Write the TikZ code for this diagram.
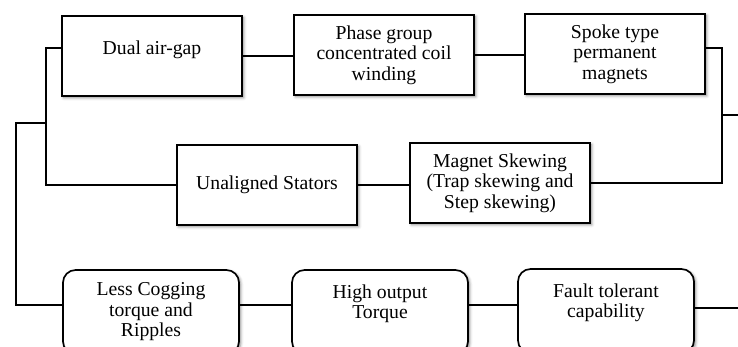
\documentclass[tikz,border=0pt]{standalone}
\usepackage{fontspec}
\setmainfont{Liberation Serif}
\usetikzlibrary{calc,shadows.blur}

\tikzset{
  blk/.style={draw, line width=1.2pt, fill=white, align=center,
    minimum width=4.5cm, minimum height=2cm, inner sep=2pt,
    font=\fontsize{14}{14.6}\selectfont,
    blur shadow={shadow xshift=1.2pt, shadow yshift=-1.2pt, shadow blur radius=2pt, shadow opacity=45}},
  rblk/.style={blk, rounded corners=9pt, minimum width=4.4cm, minimum height=2.1cm},
  wire/.style={line width=1.1pt}
}

\begin{document}
\begin{tikzpicture}[x=0.025cm,y=-0.025cm]
    \useasboundingbox (0,0) rectangle (738,347);
    \clip (0,0) rectangle (738,347);
    % top row
    \node[blk] (dual) at (152,56) {\raisebox{0.15cm}[\height][\depth]{Dual air-gap}};
    \node[blk] (phase) at (384,55) {Phase group\\concentrated coil\\winding};
    \node[blk] (spoke) at (615,54) {Spoke type\\permanent\\magnets};
    % middle row
    \node[blk] (unal) at (267,185) {Unaligned Stators};
    \node[blk] (magnet) at (500,183) {Magnet Skewing\\(Trap skewing and\\Step skewing)};
    % bottom row (results)
    \node[rblk] (less) at (151,312) {Less Cogging\\torque and\\Ripples};
    \node[rblk] (high) at (380,312) {High output\\Torque\\ \mbox{}};
    \node[rblk] (fault) at (606,311) {Fault tolerant\\capability\\ \mbox{}};

    \coordinate (ljoin) at (46,123);
    \coordinate (lfar) at (16,123);
    \coordinate (rjoin) at (722,115);
    \coordinate (rout) at (738,115);
    \coordinate (bout) at (738,308);

    \draw[wire] ([yshift=0.2cm]dual.west) -| (ljoin) |- (unal.west);
    \draw[wire] (ljoin) -- (lfar) |- ([yshift=0.17cm]less.west);
    \draw[wire] (dual.east) -- (dual.east -| phase.west);
    \draw[wire] (phase.east) -- (phase.east -| spoke.west);
    \draw[wire] ([yshift=0.15cm]spoke.east) -| (rjoin) |- (magnet.east);
    \draw[wire] (rjoin) -- (rout);
    \draw[wire] (unal.east) -- (unal.east -| magnet.west);
    \draw[wire] ([yshift=0.17cm]less.east) -- ([yshift=0.17cm]less.east -| high.west);
    \draw[wire] ([yshift=0.17cm]high.east) -- ([yshift=0.17cm]high.east -| fault.west);
    \draw[wire] (fault.east |- bout) -- (bout);
\end{tikzpicture}
\end{document}
